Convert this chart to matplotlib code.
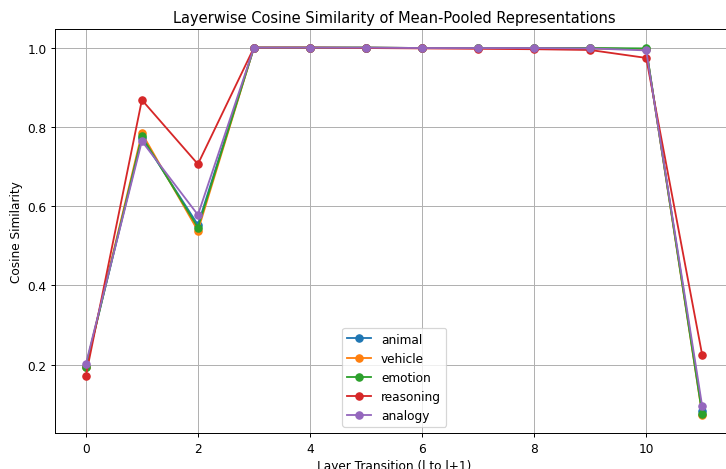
import numpy as np
import matplotlib
matplotlib.use("Agg")
import matplotlib.pyplot as plt

# transicoes entre camadas
camadas = np.arange(12)

animal = [0.195, 0.772, 0.553, 1.0, 1.0, 1.0, 0.999, 0.999, 0.999, 0.998, 0.996, 0.082]
vehicle = [0.195, 0.784, 0.538, 1.0, 1.0, 1.0, 0.999, 0.999, 0.999, 0.998, 0.996, 0.074]
emotion = [0.194, 0.776, 0.546, 1.0, 1.0, 1.0, 0.999, 0.999, 0.999, 0.999, 0.998, 0.075]
reasoning = [0.172, 0.868, 0.706, 1.0, 1.0, 0.999, 0.998, 0.997, 0.996, 0.994, 0.974, 0.224]
analogy = [0.202, 0.764, 0.578, 1.0, 1.0, 1.0, 0.999, 0.999, 0.999, 0.998, 0.993, 0.095]

series = {"animal": animal, "vehicle": vehicle, "emotion": emotion,
          "reasoning": reasoning, "analogy": analogy}

# figura um pouco maior, salva com dpi menor -> tudo fica proporcionalmente menor
dpi = 87.6
fig = plt.figure(figsize=(727 / dpi, 470 / dpi), dpi=dpi)
ax = fig.add_axes([0.0757, 0.0766, 0.9326, 0.859])

for nome, valores in series.items():
    ax.plot(camadas, valores, marker="o", label=nome)

ax.set_title("Layerwise Cosine Similarity of Mean-Pooled Representations")
ax.set_xlabel("Layer Transition (l to l+1)")
ax.set_ylabel("Cosine Similarity")
ax.legend(loc="lower center")
ax.grid(True)

fig.savefig("out.png", dpi=dpi)
